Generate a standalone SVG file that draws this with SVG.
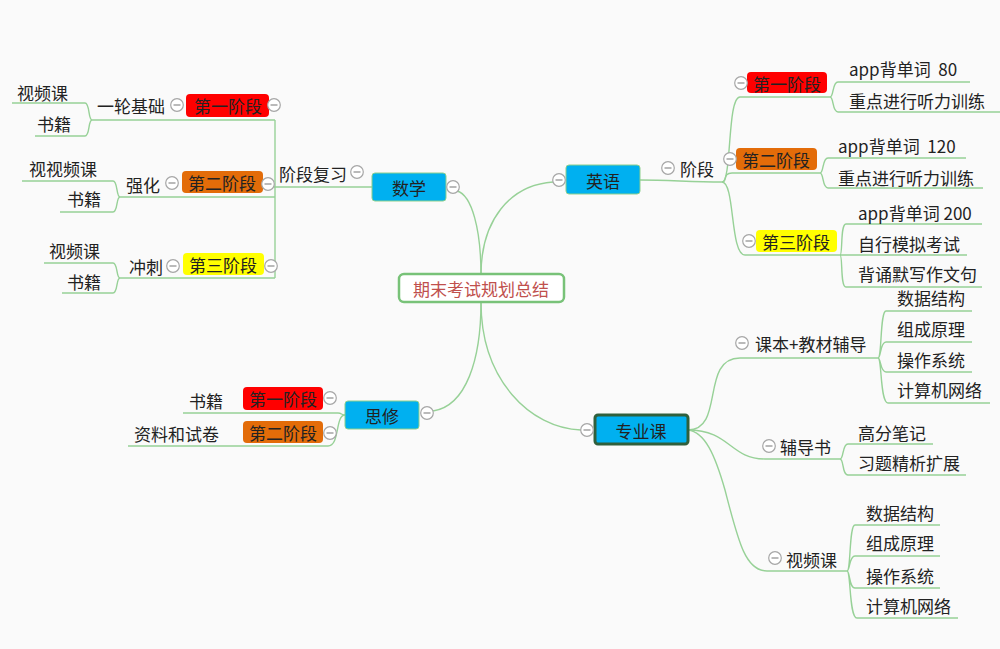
<svg xmlns="http://www.w3.org/2000/svg" width="1000" height="649" viewBox="0 0 1000 649">
<style>
text{font-family:"Noto Sans CJK SC","Microsoft YaHei",sans-serif;font-size:17px;fill:#222;dominant-baseline:central}
.c{text-anchor:middle}
.ln{fill:none;stroke:#97d197;stroke-width:1.4}
.blue{fill:#00b0f0;stroke:#8ccf8c;stroke-width:1}
.red{fill:#ff0000}
.org{fill:#e36c09}
.yel{fill:#ffff00}
</style>
<defs>
<g id="t"><circle r="6.3" fill="#ffffff" stroke="#a6a6a6" stroke-width="1.2"/><line x1="-3.5" y1="0" x2="3.5" y2="0" stroke="#8c8c8c" stroke-width="1.2"/></g>
</defs>
<rect width="1000" height="649" fill="#fafafa"/>
<g id="connectors" class="ln">
<path d="M481,275 C481,230 472,195 457,191"/>
<path d="M481,275 C481,220 510,185 553,182"/>
<path d="M481,302 C481,360 466,406 433,411"/>
<path d="M481,302 C481,380 530,428 581,430"/>
<path d="M372,187 H274"/>
<path d="M275,120 V278"/>
<path d="M275,120 H92 M275,197 H120 M275,278 H120"/>
<path d="M92,120 C88,120 90,103 85,103 H12 M92,120 C88,120 90,136 85,136 H35"/>
<path d="M120,197 C116,197 118,181 113,181 H22 M120,197 C116,197 118,212 113,212 H60"/>
<path d="M120,278 C116,278 118,263 113,263 H44 M120,278 C116,278 118,293 113,293 H62"/>
<path d="M640,180 C670,180 690,182 722,182"/>
<path d="M722,182 C732,182 727,97 740,97 H830"/>
<path d="M722,182 C728,182 722,173 732,173 H820"/>
<path d="M722,182 C735,182 730,255 745,255 H840"/>
<path d="M830,97 C834,97 832,82 838,82 H970 M830,97 C834,97 832,112 838,112 H1000"/>
<path d="M820,173 C824,173 822,158 828,158 H966 M820,173 C824,173 822,188 828,188 H983"/>
<path d="M840,255 C843,255 840,224 846,224 H982 M840,255 H967 M840,255 C843,255 840,287 846,287 H982"/>
<path d="M345,415 C341,415 342,413 338,413 H183"/>
<path d="M345,415 C335,415 340,446 328,446 H128"/>
<path d="M688,430 C725,430 700,358 740,358 H878"/>
<path d="M878,358 C882,358 880,311 886,311 H972 M878,358 C881,358 880,342 886,342 H972 M878,358 C881,358 880,372 886,372 H972 M878,358 C882,358 880,403 888,403 H990"/>
<path d="M688,430 C730,430 730,459 765,459 H840"/>
<path d="M840,459 C844,459 842,444 848,444 H933 M840,459 C844,459 842,475 848,475 H966"/>
<path d="M688,430 C705,432 715,455 725,490 C738,540 745,571 767,571 H847"/>
<path d="M847,571 C851,571 849,525 855,525 H940 M847,571 C850,571 849,556 855,556 H940 M847,571 C850,571 849,588 855,588 H940 M847,571 C851,571 849,618 857,618 H958"/>
</g>
<g id="center"><rect x="399" y="274" width="165" height="28" rx="5" fill="#fff" stroke="#78c278" stroke-width="2.5"/><text class="c" x="481" y="288" style="fill:#c0504d">期末考试规划总结</text></g>
<g id="math"><rect class="blue" x="372" y="173" width="74" height="28" rx="3"/><text class="c" x="409" y="187">数学</text></g>
<g id="math-review"><text x="279" y="173">阶段复习</text></g>
<g id="math-s1"><rect class="red" x="186" y="94" width="83" height="23" rx="4"/><text class="c" x="228" y="105">第一阶段</text></g>
<g id="math-s1-a"><text x="97" y="105">一轮基础</text></g>
<g id="math-s1-b"><text x="17" y="92">视频课</text></g>
<g id="math-s1-c"><text x="37" y="123">书籍</text></g>
<g id="math-s2"><rect class="org" x="182" y="171" width="81" height="22" rx="4"/><text class="c" x="222" y="182">第二阶段</text></g>
<g id="math-s2-a"><text x="126" y="184">强化</text></g>
<g id="math-s2-b"><text x="29" y="168">视视频课</text></g>
<g id="math-s2-c"><text x="67" y="198">书籍</text></g>
<g id="math-s3"><rect class="yel" x="183" y="253" width="81" height="22" rx="4"/><text class="c" x="223" y="264">第三阶段</text></g>
<g id="math-s3-a"><text x="129" y="266">冲刺</text></g>
<g id="math-s3-b"><text x="49" y="250">视频课</text></g>
<g id="math-s3-c"><text x="67" y="281">书籍</text></g>
<g id="eng"><rect class="blue" x="566" y="165" width="74" height="29" rx="3"/><text class="c" x="603" y="180">英语</text></g>
<g id="eng-stage"><text x="680" y="168">阶段</text></g>
<g id="eng-s1"><rect class="red" x="747" y="72" width="80" height="21" rx="4"/><text class="c" x="787" y="83">第一阶段</text></g>
<g id="eng-s1-a"><text x="849" y="68" style="white-space:pre">app背单词  80</text></g>
<g id="eng-s1-b"><text x="849" y="100">重点进行听力训练</text></g>
<g id="eng-s2"><rect class="org" x="736" y="148" width="81" height="22" rx="4"/><text class="c" x="776" y="159">第二阶段</text></g>
<g id="eng-s2-a"><text x="838" y="145" style="white-space:pre">app背单词  120</text></g>
<g id="eng-s2-b"><text x="838" y="177">重点进行听力训练</text></g>
<g id="eng-s3"><rect class="yel" x="756" y="230" width="81" height="22" rx="4"/><text class="c" x="796" y="241">第三阶段</text></g>
<g id="eng-s3-a"><text x="858" y="212">app背单词 200</text></g>
<g id="eng-s3-b"><text x="858" y="243">自行模拟考试</text></g>
<g id="eng-s3-c"><text x="858" y="273">背诵默写作文句</text></g>
<g id="sx"><rect class="blue" x="345" y="401" width="74" height="28" rx="3"/><text class="c" x="382" y="415">思修</text></g>
<g id="sx-s1"><rect class="red" x="243" y="387" width="80" height="23" rx="4"/><text class="c" x="283" y="398">第一阶段</text></g>
<g id="sx-s1-a"><text x="189" y="400">书籍</text></g>
<g id="sx-s2"><rect class="org" x="243" y="421" width="80" height="22" rx="4"/><text class="c" x="283" y="432">第二阶段</text></g>
<g id="sx-s2-a"><text x="134" y="433">资料和试卷</text></g>
<g id="pro"><rect x="595" y="415" width="93" height="29" rx="3" fill="#00b0f0" stroke="#2f5f3c" stroke-width="3"/><text class="c" x="641" y="430">专业课</text></g>
<g id="pro-book"><text x="755" y="343">课本+教材辅导</text></g>
<g id="pro-book-1"><text x="897" y="297">数据结构</text></g>
<g id="pro-book-2"><text x="897" y="328">组成原理</text></g>
<g id="pro-book-3"><text x="897" y="359">操作系统</text></g>
<g id="pro-book-4"><text x="897" y="389">计算机网络</text></g>
<g id="pro-aux"><text x="780" y="446">辅导书</text></g>
<g id="pro-aux-1"><text x="858" y="432">高分笔记</text></g>
<g id="pro-aux-2"><text x="858" y="462">习题精析扩展</text></g>
<g id="pro-video"><text x="786" y="559">视频课</text></g>
<g id="pro-video-1"><text x="866" y="512">数据结构</text></g>
<g id="pro-video-2"><text x="866" y="542">组成原理</text></g>
<g id="pro-video-3"><text x="866" y="575">操作系统</text></g>
<g id="pro-video-4"><text x="866" y="605">计算机网络</text></g>
<g id="toggles">
<use href="#t" x="453" y="187"/><use href="#t" x="357" y="172"/>
<use href="#t" x="274" y="105"/><use href="#t" x="177" y="105"/>
<use href="#t" x="268" y="184"/><use href="#t" x="172" y="183"/>
<use href="#t" x="271" y="266"/><use href="#t" x="173" y="266"/>
<use href="#t" x="559" y="180"/><use href="#t" x="668" y="168"/>
<use href="#t" x="741" y="83"/><use href="#t" x="730" y="159"/><use href="#t" x="749" y="241"/>
<use href="#t" x="427" y="413"/><use href="#t" x="330" y="398"/><use href="#t" x="330" y="433"/>
<use href="#t" x="587" y="430"/><use href="#t" x="742" y="343"/><use href="#t" x="769" y="446"/><use href="#t" x="775" y="558"/>
</g>
</svg>
